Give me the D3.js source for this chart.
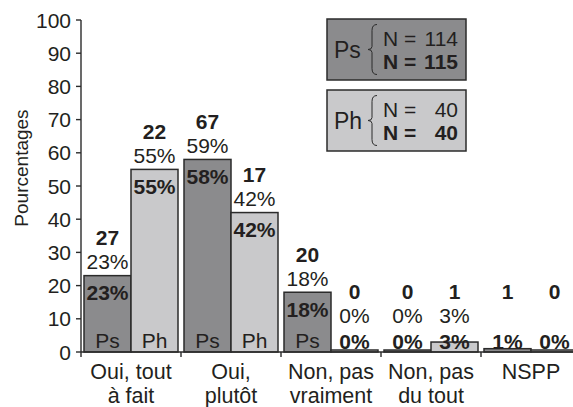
<!DOCTYPE html>
<html>
<head>
<meta charset="utf-8">
<script src="https://cdn.jsdelivr.net/npm/d3@7"></script>
<style>
    body { margin: 0; background: #fff; }
    svg { display: block; font-family: "Liberation Sans", Arial, sans-serif; }
    text { fill: #231f20; }
</style>
</head>
<body>
<div id="vis"></div>
<script>

// Data -----------------------------------------------------------------------

const CATEGORIES = [
    ["Oui, tout", "à fait"],
    ["Oui,", "plutôt"],
    ["Non, pas", "vraiment"],
    ["Non, pas", "du tout"],
    ["NSPP"]
];
const GROUPS = ["Ps", "Ph"];

// Bar heights (bold percentages, N = 115 / N = 40)
const PS_PCT = [23, 58, 18, 0, 1];
const PH_PCT = [55, 42, 0, 3, 0];

// Counts shown above bars
const PS_COUNT = [27, 67, 20, 0, 1];
const PH_COUNT = [22, 17, 0, 1, 0];

// Regular percentages (N = 114 / N = 40)
const PS_PCT_ALT = [23, 59, 18, 0, null];
const PH_PCT_ALT = [55, 42, 0, 3, null];

const Y_TICKS = [0, 10, 20, 30, 40, 50, 60, 70, 80, 90, 100];

const LEGEND = [
    {group: "Ps", n1: 114, n2: 115},
    {group: "Ph", n1: 40, n2: 40}
];

const COLORS = {Ps: "#8b8b8d", Ph: "#c9c9cb"};
const STROKE = "#2b2b2b";

// Build -----------------------------------------------------------------------

function setup() {

    const width = 573;
    const height = 407;
    const axisX = 81;

    const svg = d3.select("#vis")
        .append("svg")
        .attr("width", width)
        .attr("height", height);

    const yscale = d3.scaleLinear()
        .domain([0, 100])
        .range([352, 20]);

    const xscale = d3.scaleBand()
        .domain(d3.range(CATEGORIES.length))
        .range([axisX, axisX + 500]);

    const inner = d3.scaleBand()
        .domain(GROUPS)
        .range([3, 97]);

    // Bar data
    const bars = [];
    CATEGORIES.forEach((c, i) => {
        bars.push({cat: i, group: "Ps", pct: PS_PCT[i],
            count: PS_COUNT[i], alt: PS_PCT_ALT[i]});
        bars.push({cat: i, group: "Ph", pct: PH_PCT[i],
            count: PH_COUNT[i], alt: PH_PCT_ALT[i]});
    });

    bars.forEach(d => {
        d.x = xscale(d.cat) + inner(d.group);
        d.w = inner.bandwidth();
        d.top = Math.min(yscale(d.pct), yscale(0) - 2);
        d.cx = d.x + d.w / 2;
        d.insideY = Math.min(d.top + 17, 341);
        d.altY = Math.min(d.top - 14, 315);
        d.countY = d.altY - 24;
    });

    // Bars
    svg.selectAll(".bar")
        .data(bars)
        .enter()
        .append("rect")
        .attr("class", "bar")
        .attr("x", d => d.x)
        .attr("y", d => d.top)
        .attr("width", d => d.w)
        .attr("height", d => yscale(0) - d.top)
        .attr("fill", d => COLORS[d.group])
        .attr("stroke", STROKE)
        .attr("stroke-width", 1.5);

    // Labels
    const lab = svg.append("g")
        .attr("text-anchor", "middle")
        .attr("font-size", 21);

    lab.selectAll(".count")
        .data(bars)
        .enter()
        .append("text")
        .attr("x", d => d.cx)
        .attr("y", d => d.countY)
        .attr("dy", "0.36em")
        .attr("font-weight", "bold")
        .text(d => d.count);

    lab.selectAll(".alt")
        .data(bars.filter(d => d.alt !== null))
        .enter()
        .append("text")
        .attr("x", d => d.cx)
        .attr("y", d => d.altY)
        .attr("dy", "0.36em")
        .text(d => d.alt + "%");

    lab.selectAll(".inside")
        .data(bars)
        .enter()
        .append("text")
        .attr("x", d => d.cx)
        .attr("y", d => d.insideY)
        .attr("dy", "0.36em")
        .attr("font-weight", "bold")
        .text(d => d.pct + "%");

    lab.selectAll(".grp")
        .data(bars.filter(d => yscale(0) - d.top > 40))
        .enter()
        .append("text")
        .attr("x", d => d.cx)
        .attr("y", 340)
        .attr("dy", "0.36em")
        .text(d => d.group);

    // Y axis
    const yaxis = svg.append("g");
    yaxis.append("line")
        .attr("x1", axisX).attr("x2", axisX)
        .attr("y1", yscale(100)).attr("y2", yscale(0))
        .attr("stroke", STROKE).attr("stroke-width", 1.4);

    yaxis.selectAll(".ytick")
        .data(Y_TICKS)
        .enter()
        .append("line")
        .attr("x1", axisX - 5).attr("x2", axisX)
        .attr("y1", d => yscale(d)).attr("y2", d => yscale(d))
        .attr("stroke", STROKE).attr("stroke-width", 1.4);

    yaxis.selectAll(".ylabel")
        .data(Y_TICKS)
        .enter()
        .append("text")
        .attr("x", axisX - 10)
        .attr("y", d => yscale(d))
        .attr("dy", "0.36em")
        .attr("text-anchor", "end")
        .attr("font-size", 21)
        .text(d => d);

    svg.append("text")
        .attr("transform", `translate(21, 168) rotate(-90)`)
        .attr("text-anchor", "middle")
        .attr("dy", "0.36em")
        .attr("font-size", 19)
        .text("Pourcentages");

    // X axis
    const xaxis = svg.append("g");
    xaxis.append("line")
        .attr("x1", axisX).attr("x2", width)
        .attr("y1", yscale(0)).attr("y2", yscale(0))
        .attr("stroke", STROKE).attr("stroke-width", 1.4);

    xaxis.selectAll(".xtick")
        .data(d3.range(CATEGORIES.length + 1))
        .enter()
        .append("line")
        .attr("x1", d => axisX + d * xscale.bandwidth())
        .attr("x2", d => axisX + d * xscale.bandwidth())
        .attr("y1", yscale(0)).attr("y2", yscale(0) + 5)
        .attr("stroke", STROKE).attr("stroke-width", 1.4);

    const xl = xaxis.selectAll(".xlabel")
        .data(CATEGORIES)
        .enter()
        .append("text")
        .attr("text-anchor", "middle")
        .attr("font-size", 21.5);

    xl.selectAll("tspan")
        .data((d, i) => d.map(t => ({t, i})))
        .enter()
        .append("tspan")
        .attr("x", d => xscale(d.i) + xscale.bandwidth() / 2)
        .attr("y", (d, j) => 371 + j * 24)
        .attr("dy", "0.36em")
        .text(d => d.t);

    // Legend
    LEGEND.forEach((l, i) => {
        const top = 19 + i * 71;
        const cy = top + 30.5;
        const g = svg.append("g");

        g.append("rect")
            .attr("x", 327).attr("y", top)
            .attr("width", 139).attr("height", 61)
            .attr("fill", COLORS[l.group])
            .attr("stroke", STROKE).attr("stroke-width", 1.5);

        g.append("text")
            .attr("x", 334).attr("y", cy)
            .attr("dy", "0.36em")
            .attr("font-size", 23)
            .text(l.group);

        // Brace
        const bx = 377, h = 25;
        g.append("path")
            .attr("d", `M${bx},${cy - h} q-5,0 -5,6 v${h - 9} q0,3 -4,3
                q4,0 4,3 v${h - 9} q0,6 5,6`)
            .attr("fill", "none")
            .attr("stroke", STROKE)
            .attr("stroke-width", 1);

        [[l.n1, "normal", -11.5], [l.n2, "bold", 11.5]].forEach(r => {
            g.append("text")
                .attr("x", 383).attr("y", cy + r[2])
                .attr("dy", "0.36em")
                .attr("font-size", 21)
                .attr("font-weight", r[1])
                .text("N =");
            g.append("text")
                .attr("x", 458).attr("y", cy + r[2])
                .attr("dy", "0.36em")
                .attr("text-anchor", "end")
                .attr("font-size", 21)
                .attr("font-weight", r[1])
                .text(r[0]);
        });
    });
}

setup();

</script>
</body>
</html>
